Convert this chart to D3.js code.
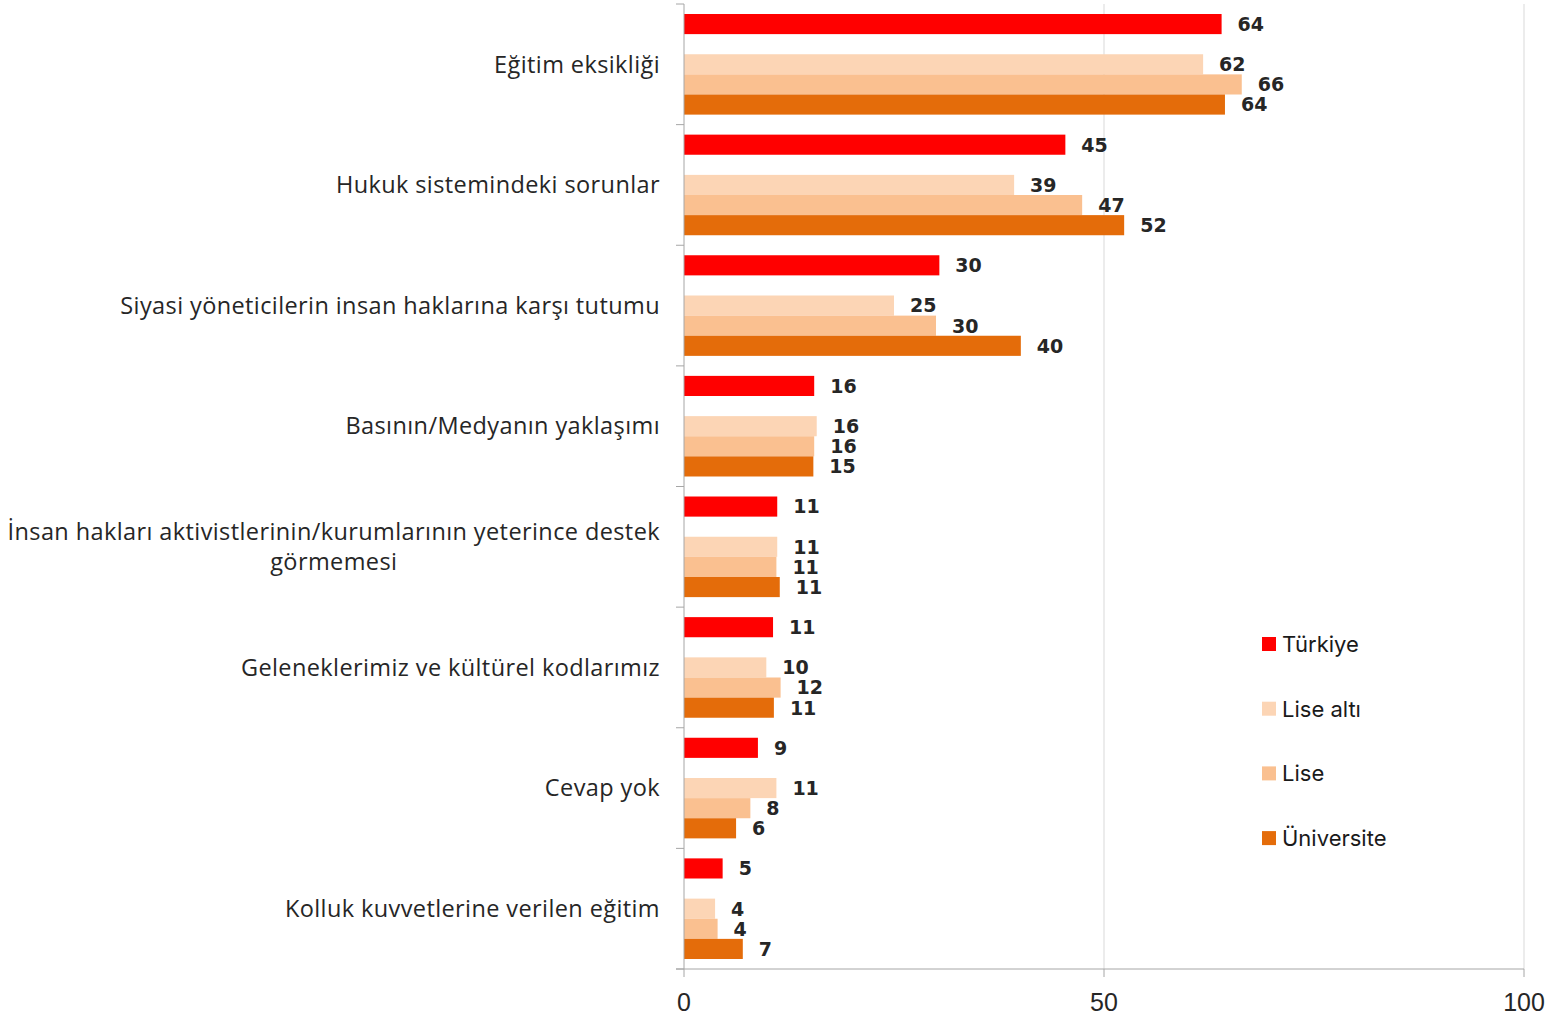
<!DOCTYPE html>
<html>
<head>
<meta charset="utf-8">
<script src="https://cdn.jsdelivr.net/npm/d3@7"></script>
<style>
  body { margin: 0; background: #fff; }
</style>
</head>
<body>
<div id="chart"></div>
<script>
// categories (top to bottom), multi-line labels split with \n
const categories = [
  "Eğitim eksikliği",
  "Hukuk sistemindeki sorunlar",
  "Siyasi yöneticilerin insan haklarına karşı tutumu",
  "Basının/Medyanın yaklaşımı",
  "İnsan hakları aktivistlerinin/kurumlarının yeterince destek\ngörmemesi",
  "Geleneklerimiz ve kültürel kodlarımız",
  "Cevap yok",
  "Kolluk kuvvetlerine verilen eğitim"
];

const seriesNames = ["Türkiye", "Lise altı", "Lise", "Üniversite"];
const seriesColors = ["#ff0000", "#fcd5b5", "#fac090", "#e46c0a"];

// values
const turkiye    = [64.0, 45.4, 30.4, 15.5, 11.1, 10.6, 8.8, 4.6];
const liseAlti   = [61.8, 39.3, 25.0, 15.8, 11.1, 9.8, 11.0, 3.7];
const lise       = [66.4, 47.4, 30.0, 15.5, 11.0, 11.5, 7.9, 4.0];
const universite = [64.4, 52.4, 40.1, 15.4, 11.4, 10.7, 6.2, 7.0];

const xTicks = [0, 50, 100];

const seriesValues = [turkiye, liseAlti, lise, universite];
// slot of each series inside a category band (slot 1 is an empty gap)
const slots = [0, 2, 3, 4];

const W = 1553, H = 1019;
const margin = {top: 4, right: 29, bottom: 50, left: 684};
const width = W - margin.left - margin.right,
      height = H - margin.top - margin.bottom;

const svg = d3.select("#chart").append("svg")
    .attr("width", W)
    .attr("height", H)
  .append("g")
    .attr("transform", `translate(${margin.left},${margin.top})`);

const x = d3.scaleLinear().domain([0, 100]).range([0, width]);
const y = d3.scaleBand().domain(d3.range(categories.length)).range([0, height]);
const band = y.bandwidth();
const pad = band * 10 / 120.6;
const slotH = (band - 2 * pad) / 5;

// gridlines
svg.append("g")
  .selectAll("line")
  .data(xTicks.filter(d => d > 0))
  .join("line")
    .attr("x1", d => x(d)).attr("x2", d => x(d))
    .attr("y1", 0).attr("y2", height)
    .attr("stroke", "#d9d9d9")
    .attr("stroke-width", 1);

// bars
const rows = [];
categories.forEach((c, i) => {
  seriesValues.forEach((vals, s) => {
    rows.push({cat: i, s: s, v: vals[i]});
  });
});

svg.append("g")
  .selectAll("rect")
  .data(rows)
  .join("rect")
    .attr("x", 0)
    .attr("y", d => y(d.cat) + pad + slots[d.s] * slotH)
    .attr("width", d => x(d.v))
    .attr("height", slotH)
    .attr("fill", d => seriesColors[d.s]);

// value labels
svg.append("g")
  .selectAll("text")
  .data(rows)
  .join("text")
    .attr("x", d => x(d.v) + 16)
    .attr("y", d => y(d.cat) + pad + slots[d.s] * slotH + slotH / 2)
    .attr("dy", "0.36em")
    .attr("font-family", "DejaVu Sans, sans-serif")
    .attr("font-weight", "900")
    .attr("font-size", 19)
    .attr("fill", "#262626")
    .text(d => Math.round(d.v));

// left axis
const yAxis = svg.append("g");
yAxis.append("line")
  .attr("x1", 0).attr("x2", 0).attr("y1", 0).attr("y2", height)
  .attr("stroke", "#a6a6a6");
yAxis.selectAll("line.tick")
  .data(d3.range(categories.length + 1))
  .join("line")
    .attr("class", "tick")
    .attr("x1", -8).attr("x2", 0)
    .attr("y1", d => d * band).attr("y2", d => d * band)
    .attr("stroke", "#a6a6a6");

// category labels
const catG = svg.append("g")
  .attr("font-family", "Open Sans, Noto Sans, sans-serif")
  .attr("font-size", 23.5)
  .attr("letter-spacing", 0.4)
  .attr("fill", "#262626");

categories.forEach((c, i) => {
  const lines = c.split("\n");
  const cy = y(i) + band / 2;
  const lh = 30;
  const t = catG.append("text")
    .attr("text-anchor", "end")
    .attr("x", -24);
  lines.forEach((ln, j) => {
    t.append("tspan")
      .attr("x", -24)
      .attr("y", cy + (j - (lines.length - 1) / 2) * lh)
      .attr("dy", "0.35em")
      .text(ln);
  });
  if (lines.length > 1) {
    // center the lines on the longest one
    const spans = t.selectAll("tspan").nodes();
    const widths = spans.map(n => n.getComputedTextLength());
    const maxW = d3.max(widths);
    t.attr("text-anchor", "middle");
    spans.forEach(n => d3.select(n).attr("x", -24 - maxW / 2));
  }
});

// bottom axis
const xAxis = svg.append("g").attr("transform", `translate(0,${height})`);
xAxis.append("line")
  .attr("x1", -8).attr("x2", width).attr("y1", 0).attr("y2", 0)
  .attr("stroke", "#a6a6a6");
xAxis.selectAll("line.tick")
  .data(xTicks)
  .join("line")
    .attr("class", "tick")
    .attr("x1", d => x(d)).attr("x2", d => x(d))
    .attr("y1", 0).attr("y2", 8)
    .attr("stroke", "#a6a6a6");
xAxis.selectAll("text")
  .data(xTicks)
  .join("text")
    .attr("x", d => x(d))
    .attr("y", 42)
    .attr("text-anchor", "middle")
    .attr("font-family", "Liberation Sans, Arial, sans-serif")
    .attr("font-size", 25)
    .attr("fill", "#262626")
    .text(d => d);

// legend
const legend = d3.select("svg").append("g")
  .attr("transform", "translate(1262,644)");
const item = legend.selectAll("g")
  .data(seriesNames)
  .join("g")
    .attr("transform", (d, i) => `translate(0,${i * 64.7})`);
item.append("rect")
  .attr("x", 0).attr("y", -7)
  .attr("width", 14).attr("height", 14)
  .attr("fill", (d, i) => seriesColors[i]);
item.append("text")
  .attr("x", 20)
  .attr("y", 0)
  .attr("dy", "0.36em")
  .attr("font-family", "Inter, Noto Sans, sans-serif")
  .attr("font-size", 22)
  .attr("fill", "#1a1a1a")
  .text(d => d);
</script>
</body>
</html>
